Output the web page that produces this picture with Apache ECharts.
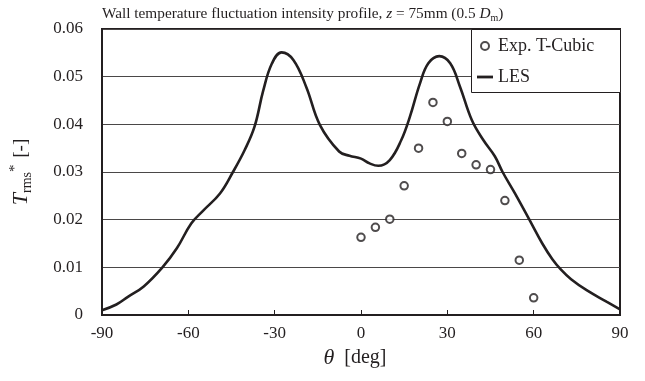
<!DOCTYPE html>
<html>
<head>
<meta charset="utf-8">
<script src="https://cdn.jsdelivr.net/npm/echarts@6/dist/echarts.min.js"></script>
<style>
html,body{margin:0;padding:0;background:#fff;}
#chart{width:645px;height:381px;}
</style>
</head>
<body>
<div id="chart"></div>
<script>
// Experimental data (theta [deg], T_rms*)
const expTheta = [0, 5, 10, 15, 20, 25, 30, 35, 40, 45, 50, 55, 60];
const expValues = [0.0163, 0.0184, 0.0201, 0.0271, 0.0350, 0.0446, 0.0406, 0.0339, 0.0315, 0.0305, 0.0240, 0.0115, 0.0036];

// LES curve (theta [deg], T_rms*)
const lesTheta = [-90, -85, -81, -75.5, -69, -64, -59, -55, -49, -44.5, -40.5, -37, -34, -31, -27.6, -23.5, -19, -14.3, -7.6, -4, 0, 3, 6, 10, 14, 17, 20.5, 23.4, 27.2, 31, 34.4, 38.5, 42.5, 46.5, 49.2, 53.5, 58.5, 63, 66.5, 69.5, 73, 78.4, 85.3, 90];
const lesValues = [0.0010, 0.0022, 0.0038, 0.0060, 0.0100, 0.0140, 0.0192, 0.0218, 0.0255, 0.0300, 0.0345, 0.0395, 0.0470, 0.0527, 0.0551, 0.0535, 0.0478, 0.0399, 0.0343, 0.0334, 0.0328, 0.0318, 0.0313, 0.0325, 0.0367, 0.0416, 0.0486, 0.0528, 0.0543, 0.0528, 0.0479, 0.0409, 0.0367, 0.0333, 0.0300, 0.0255, 0.0200, 0.0150, 0.0117, 0.0095, 0.0075, 0.0052, 0.0028, 0.0012];

const xTicks = [-90, -60, -30, 0, 30, 60, 90];
const yTicks = [0, 0.01, 0.02, 0.03, 0.04, 0.05, 0.06];

const FONT = 'Liberation Serif';
const INK = '#231f20';

const chart = echarts.init(document.getElementById('chart'));
chart.setOption({
  backgroundColor: '#ffffff',
  animation: false,
  textStyle: {fontFamily: FONT, color: INK},
  title: {
    left: 97, top: 0,
    text: '{n|Wall temperature fluctuation intensity profile, }{i|z}{n| = 75mm (0.5 }{i|D}{s|m}{n|)}',
    textStyle: {
      fontWeight: 'normal',
      rich: {
        n: {fontFamily: FONT, fontSize: 15.3, fontWeight: 'normal', color: INK, lineHeight: 18, verticalAlign: 'middle'},
        i: {fontFamily: FONT, fontSize: 15.3, fontWeight: 'normal', fontStyle: 'italic', color: INK, lineHeight: 18, verticalAlign: 'middle'},
        s: {fontFamily: FONT, fontSize: 10, fontWeight: 'normal', color: INK, lineHeight: 10, verticalAlign: 'bottom'}
      }
    }
  },
  grid: {left: 102, right: 25, top: 29, bottom: 66, show: true, borderColor: INK, borderWidth: 2, backgroundColor: 'transparent'},
  legend: {
    orient: 'vertical', left: 477, top: 37, padding: 0, itemGap: 13,
    itemWidth: 16, itemHeight: 8,
    textStyle: {fontFamily: FONT, fontSize: 18, color: INK},
    data: [
      {name: 'Exp. T-Cubic'},
      {name: 'LES', icon: 'path://M0,0M16,8M0,2.6L16,2.6L16,5.4L0,5.4Z'}
    ]
  },
  graphic: [{
    type: 'rect', z: 3, left: 471, top: 29,
    shape: {width: 149, height: 63},
    style: {fill: '#fff', stroke: INK, lineWidth: 1}
  }],
  xAxis: {
    type: 'value', min: -90, max: 90, interval: 30,
    name: '{i|θ}{n|  [deg]}', nameLocation: 'middle', nameGap: 28,
    nameTextStyle: {
      rich: {
        i: {fontFamily: FONT, fontSize: 22, fontStyle: 'italic', color: INK},
        n: {fontFamily: FONT, fontSize: 20, color: INK, padding: [0, 12, 0, 0]}
      }
    },
    axisLine: {show: true, onZero: false, lineStyle: {color: INK, width: 2}},
    axisTick: {show: true, inside: true, length: 5, lineStyle: {color: INK, width: 1}},
    axisLabel: {
      fontFamily: FONT, fontSize: 17, color: INK, margin: 10,
      formatter: v => xTicks.indexOf(v) >= 0 ? String(v) : ''
    },
    splitLine: {show: false}
  },
  yAxis: {
    type: 'value', min: 0, max: 0.06, interval: 0.01,
    name: '{i|T}{s|rms}{p|*}{n| [-]}', nameLocation: 'middle', nameGap: 68,
    nameTextStyle: {
      rich: {
        i: {fontFamily: FONT, fontSize: 22, fontStyle: 'italic', color: INK, lineHeight: 26, verticalAlign: 'middle'},
        s: {fontFamily: FONT, fontSize: 14, color: INK, lineHeight: 12, verticalAlign: 'bottom'},
        p: {fontFamily: FONT, fontSize: 15, color: INK, lineHeight: 14, verticalAlign: 'top'},
        n: {fontFamily: FONT, fontSize: 19, color: INK, lineHeight: 26, verticalAlign: 'middle', padding: [0, 0, 0, 2]}
      }
    },
    axisLine: {show: true, onZero: false, lineStyle: {color: INK, width: 2}},
    axisTick: {show: false},
    axisLabel: {
      fontFamily: FONT, fontSize: 17, color: INK, margin: 19,
      formatter: v => {
        const t = yTicks.find(k => Math.abs(k - v) < 1e-9);
        if (t === undefined) return '';
        return t === 0 ? '0' : t.toFixed(2);
      }
    },
    splitLine: {show: true, lineStyle: {color: '#4a4747', width: 1}}
  },
  series: [
    {
      name: 'LES', type: 'line', z: 2,
      data: lesTheta.map((t, i) => [t, lesValues[i]]),
      smooth: 0.4, symbol: 'none',
      lineStyle: {color: INK, width: 2.6},
      itemStyle: {color: INK}
    },
    {
      name: 'Exp. T-Cubic', type: 'scatter', z: 5,
      data: expTheta.map((t, i) => [t, expValues[i]]),
      symbol: 'emptyCircle', symbolSize: 7.5,
      itemStyle: {color: INK, borderColor: INK, borderWidth: 1.3}
    }
  ]
});
</script>
</body>
</html>
